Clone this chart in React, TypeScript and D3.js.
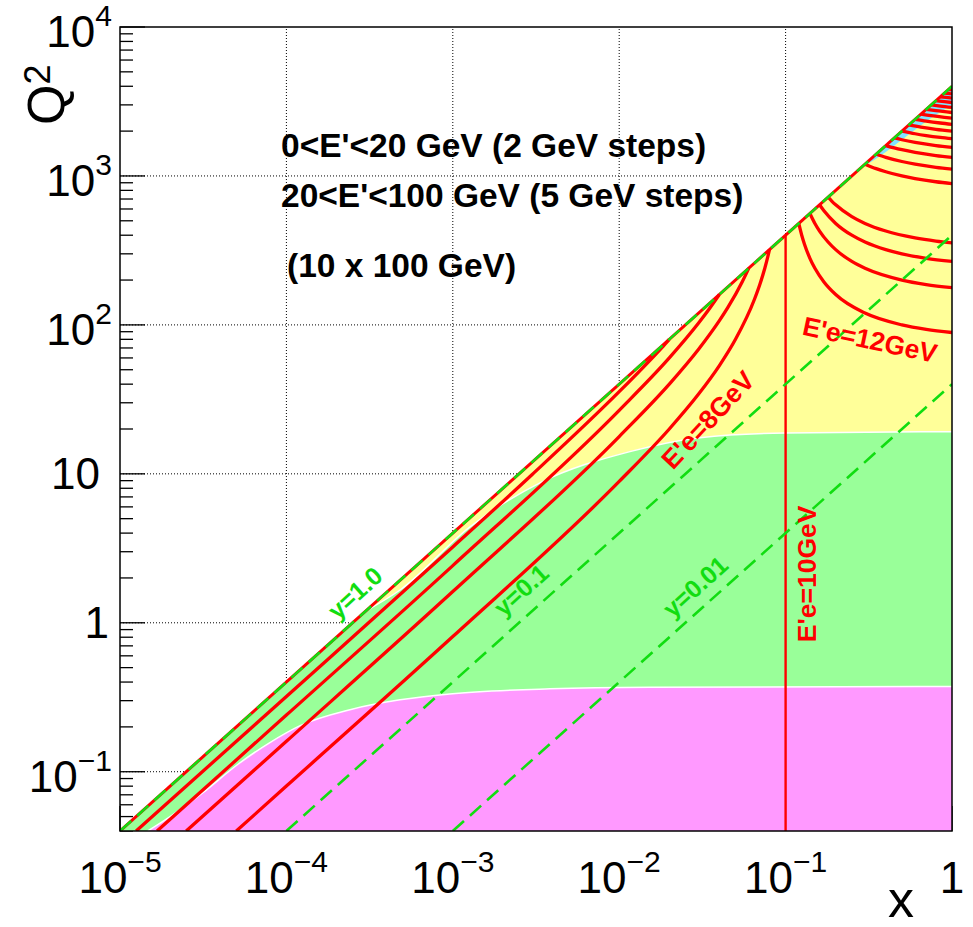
import React, { useRef, useEffect } from 'react'
import * as d3 from 'd3'

// 10 GeV electron x 100 GeV proton, x - Q2 plane
const xDomain = [1e-5, 1]
const yDomain = [0.04, 1e4]

const xTickValues = [1e-5, 1e-4, 1e-3, 1e-2, 1e-1, 1]
const xTickLabels = [['10', '−5'], ['10', '−4'], ['10', '−3'], ['10', '−2'], ['10', '−1'], ['1', '']]
const yTickValues = [1e4, 1e3, 1e2, 10, 1, 0.1]
const yTickLabels = [['10', '4'], ['10', '3'], ['10', '2'], ['10', ''], ['1', ''], ['10', '−1']]

// dashed green lines of constant y (end points)
const yLineNames = ['y=1.0', 'y=0.1', 'y=0.01']
const yLinePoints = [
    [[1e-5, 0.04], [1, 4000]],
    [[1e-4, 0.04], [1, 400]],
    [[1e-3, 0.04], [1, 40]],
]

// E'e contours below 10 GeV (x < 0.1)
const eLow = [2, 4, 6, 8]
const eLowPoints = [
    [[1.25e-5, 0.04], [1e-4, 0.32], [1e-3, 3.23], [3e-3, 9.9], [1e-2, 35.6], [0.015, 56.5], [0.018, 70.2], [0.02, 80]],
    [[1.67e-5, 0.04], [1e-4, 0.24], [1e-3, 2.42], [1e-2, 26.7], [0.02, 60], [0.03, 102.9], [0.035, 129.2], [0.038, 147.1], [0.04, 160]],
    [[2.5e-5, 0.04], [1e-4, 0.16], [1e-3, 1.62], [1e-2, 17.8], [0.02, 40], [0.03, 68.6], [0.04, 106.7], [0.045, 130.9], [0.055, 195.6], [0.058, 221], [0.06, 240]],
    [[5e-5, 0.04], [1e-4, 0.0801], [1e-3, 0.808], [1e-2, 8.89], [0.02, 20], [0.03, 34.3], [0.04, 53.3], [0.05, 80], [0.065, 148.6], [0.07, 186.7], [0.075, 240], [0.078, 283.6], [0.08, 320]],
]

// E'e = 10 GeV, vertical at x = 0.1
const eTen = [[0.1, 0.04], [0.1, 400]]

// E'e contours above 10 GeV (x > 0.1)
const eHigh = [12, 14, 16, 18, 30, 35, 40, 45, 50, 55, 60, 65, 70, 75, 80, 85, 90, 95]
const eHighPoints = [
    [[0.12, 480], [0.125, 400], [0.13, 346.7], [0.14, 280], [0.15, 240], [0.17, 194.3], [0.2, 160], [0.3, 120], [0.5, 100], [0.7, 93.3], [1, 88.9]],
    [[0.14, 560], [0.15, 480], [0.16, 426.7], [0.18, 360], [0.2, 320], [0.25, 266.7], [0.3, 240], [0.5, 200], [0.7, 186.7], [1, 177.8]],
    [[0.16, 640], [0.17, 582.9], [0.2, 480], [0.25, 400], [0.3, 360], [0.4, 320], [0.5, 300], [0.7, 280], [1, 266.7]],
    [[0.18, 720], [0.19, 675.6], [0.2, 640], [0.25, 533.3], [0.3, 480], [0.4, 426.7], [0.6, 384], [0.8, 365.7], [1, 355.6]],
    [[0.3, 1200], [0.35, 1120], [0.4, 1066.7], [0.5, 1000], [0.6, 960], [0.8, 914.3], [1, 888.9]],
    [[0.35, 1400], [0.4, 1333.3], [0.5, 1250], [0.6, 1200], [0.8, 1142.9], [1, 1111.1]],
    [[0.4, 1600], [0.45, 1542.9], [0.5, 1500], [0.6, 1440], [0.8, 1371.4], [1, 1333.3]],
    [[0.45, 1800], [0.5, 1750], [0.6, 1680], [0.8, 1600], [1, 1555.6]],
    [[0.5, 2000], [0.6, 1920], [0.7, 1866.7], [0.85, 1813.3], [1, 1777.8]],
    [[0.55, 2200], [0.65, 2127.3], [0.8, 2057.1], [1, 2000]],
    [[0.6, 2400], [0.7, 2333.3], [0.85, 2266.7], [1, 2222.2]],
    [[0.65, 2600], [0.75, 2538.5], [0.9, 2475], [1, 2444.4]],
    [[0.7, 2800], [0.8, 2742.9], [1, 2666.7]],
    [[0.75, 3000], [0.85, 2946.7], [1, 2888.9]],
    [[0.8, 3200], [0.9, 3150], [1, 3111.1]],
    [[0.85, 3400], [0.92, 3365.9], [1, 3333.3]],
    [[0.9, 3600], [1, 3555.6]],
    [[0.95, 3800], [1, 3777.8]],
]

// region borders
const yellowBorder = [[3.0e-4, 1.2], [4.82e-4, 1.66], [1.27e-3, 4.41], [3.34e-3, 8.7], [1.16e-2, 14.1], [3.06e-2, 17.5], [0.1, 18.8], [1, 19.2]]
const magentaBorder = [[1.47e-5, 0.04], [2.0e-5, 0.0499], [3.15e-5, 0.0723], [5.05e-5, 0.111], [7.96e-5, 0.157], [1.21e-4, 0.204], [2.41e-4, 0.261], [4.82e-4, 0.304], [9.6e-4, 0.333], [3.84e-3, 0.36], [1.53e-2, 0.369], [1, 0.373]]
const cyanBorder = [[0.28, 1120], [0.4, 1450], [0.55, 1900], [0.75, 2450], [1, 3000]]

const curveLabelTexts = ["E'e=8GeV", "E'e=12GeV", "E'e=10GeV"]
const infoTexts = ["0<E'<20 GeV (2 GeV steps)", "20<E'<100 GeV (5 GeV steps)", '(10 x 100 GeV)']

const width = 973
const height = 927
const margin = { top: 27, right: 21, bottom: 96, left: 120 }

const App = () => {
    const svgRef = useRef(null)

    useEffect(() => {
        document.body.style.margin = '0'
        const svg = d3.select(svgRef.current)
        svg.selectAll('*').remove()

        const font = 'Liberation Sans, Arial, Helvetica, sans-serif'
        const x0 = margin.left
        const x1 = width - margin.right
        const y0 = height - margin.bottom
        const y1 = margin.top

        const xScale = d3.scaleLog().domain(xDomain).range([x0, x1])
        const yScale = d3.scaleLog().domain(yDomain).range([y0, y1])

        const line = d3.line().x((d) => xScale(d[0])).y((d) => yScale(d[1]))
        const smooth = d3.line().x((d) => xScale(d[0])).y((d) => yScale(d[1])).curve(d3.curveMonotoneX)
        const pt = (d) => `${xScale(d[0])},${yScale(d[1])}`

        svg.append('rect').attr('width', width).attr('height', height).attr('fill', '#fff')

        svg.append('defs').append('clipPath').attr('id', 'plotclip')
            .append('rect').attr('x', x0).attr('y', y1).attr('width', x1 - x0).attr('height', y0 - y1)

        //grid
        const grid = svg.append('g').attr('stroke', '#000').attr('stroke-width', 1).attr('stroke-dasharray', '1,2')
        xTickValues.slice(1, -1).forEach((v) => {
            grid.append('line').attr('x1', xScale(v)).attr('x2', xScale(v)).attr('y1', y0).attr('y2', y1)
        })
        yTickValues.slice(1).forEach((v) => {
            grid.append('line').attr('x1', x0).attr('x2', x1).attr('y1', yScale(v)).attr('y2', yScale(v))
        })

        //ticks
        const isDecade = (v) => Math.abs(Math.log10(v) - Math.round(Math.log10(v))) < 1e-6
        const ticks = svg.append('g').attr('stroke', '#000').attr('stroke-width', 1.3)
        yScale.ticks().forEach((v) => {
            const len = isDecade(v) ? 25 : 13
            ticks.append('line').attr('x1', x0).attr('x2', x0 + len).attr('y1', yScale(v)).attr('y2', yScale(v))
        })
        xScale.ticks().forEach((v) => {
            const len = isDecade(v) ? 25 : 13
            ticks.append('line').attr('x1', xScale(v)).attr('x2', xScale(v)).attr('y1', y0).attr('y2', y0 - len)
        })

        //regions
        const plot = svg.append('g').attr('clip-path', 'url(#plotclip)')
        const [lo, hi] = yLinePoints[0]
        plot.append('path')
            .attr('d', `M${pt(lo)}L${pt(hi)}L${pt([hi[0], lo[1]])}Z`)
            .attr('fill', '#99ff99')
        plot.append('path')
            .attr('d', `${smooth(yellowBorder)}L${pt(hi)}L${pt(yellowBorder[0])}Z`)
            .attr('fill', '#ffff99')
        plot.append('path')
            .attr('d', `${smooth(magentaBorder)}L${pt([hi[0], lo[1]])}L${pt(magentaBorder[0])}Z`)
            .attr('fill', '#ff99ff')
        plot.append('path')
            .attr('d', `${smooth(cyanBorder)}L${pt(hi)}Z`)
            .attr('fill', '#80e4ff')
        ;[yellowBorder, magentaBorder].forEach((b) => {
            plot.append('path').attr('d', smooth(b)).attr('fill', 'none').attr('stroke', '#fff').attr('stroke-width', 1.5)
        })

        //E'e contours
        plot.append('path').attr('d', line(yLinePoints[0]))
            .attr('fill', 'none').attr('stroke', '#ff0000').attr('stroke-width', 3)
        ;[...eLowPoints, ...eHighPoints].forEach((pts) => {
            plot.append('path').attr('d', smooth(pts))
                .attr('fill', 'none').attr('stroke', '#ff0000').attr('stroke-width', 3.3)
                .attr('stroke-linejoin', 'round')
        })
        plot.append('path').attr('d', line(eTen))
            .attr('fill', 'none').attr('stroke', '#ff0000').attr('stroke-width', 2.4)

        //constant y lines
        yLinePoints.forEach((pts) => {
            plot.append('path').attr('d', line(pts))
                .attr('fill', 'none').attr('stroke', '#11dd11').attr('stroke-width', 2.6)
                .attr('stroke-dasharray', '15,8')
        })

        //labels on lines
        const yLabelAt = [[2.58e-4, 1.59], [2.57e-3, 1.66], [0.0286, 1.75]]
        yLineNames.forEach((t, i) => {
            svg.append('text')
                .attr('transform', `translate(${xScale(yLabelAt[i][0])},${yScale(yLabelAt[i][1])}) rotate(-42)`)
                .attr('text-anchor', 'middle').attr('dominant-baseline', 'central')
                .attr('font-family', font).attr('font-weight', 'bold').attr('font-size', 25)
                .attr('fill', '#11dd11').text(t)
        })
        const eLabelAt = [[0.0342, 23.0, -47], [0.321, 79.3, 12], [0.134, 2.13, -90]]
        curveLabelTexts.forEach((t, i) => {
            const [lx, ly, ang] = eLabelAt[i]
            svg.append('text')
                .attr('transform', `translate(${xScale(lx)},${yScale(ly)}) rotate(${ang})`)
                .attr('text-anchor', 'middle').attr('dominant-baseline', 'central')
                .attr('font-family', font).attr('font-weight', 'bold').attr('font-size', 26.5)
                .attr('fill', '#ff0000').text(t)
        })

        //info text
        const infoPos = [[x0 + 161, 157], [x0 + 161, 207], [x0 + 167, 277]]
        infoTexts.forEach((t, i) => {
            svg.append('text')
                .attr('x', infoPos[i][0]).attr('y', infoPos[i][1])
                .attr('font-family', font).attr('font-weight', 'bold').attr('font-size', 33.5)
                .attr('fill', '#000').text(t)
        })

        //frame
        svg.append('rect').attr('x', x0).attr('y', y1).attr('width', x1 - x0).attr('height', y0 - y1)
            .attr('fill', 'none').attr('stroke', '#000').attr('stroke-width', 1.5)

        //tick labels
        const label = (sel, base, exp) => {
            sel.append('tspan').text(base)
            if (exp) sel.append('tspan').attr('dy', -21).attr('font-size', 30).text(exp)
        }
        xTickValues.forEach((v, i) => {
            const t = svg.append('text')
                .attr('x', xScale(v)).attr('y', y0 + 62)
                .attr('text-anchor', 'middle')
                .attr('font-family', font).attr('font-size', 44).attr('fill', '#000')
            label(t, xTickLabels[i][0], xTickLabels[i][1])
        })
        yTickValues.forEach((v, i) => {
            const [base, exp] = yTickLabels[i]
            const right = exp ? 112 : base === '1' ? 109 : 100
            const t = svg.append('text')
                .attr('x', right)
                .attr('y', yScale(v) + (exp ? 20 : 15))
                .attr('text-anchor', 'end')
                .attr('font-family', font).attr('font-size', 44).attr('fill', '#000')
            label(t, base, exp)
        })

        //axis titles
        svg.append('text')
            .attr('x', x1 - 38).attr('y', height - 10)
            .attr('text-anchor', 'end')
            .attr('font-family', font).attr('font-size', 52).attr('fill', '#000')
            .text('x')
        const q = svg.append('text')
            .attr('transform', `translate(64,125) rotate(-90)`)
            .attr('font-family', font).attr('font-size', 52).attr('fill', '#000')
        q.append('tspan').text('Q')
        q.append('tspan').attr('dy', -14).attr('font-size', 36).text('2')
    }, [])

    return <svg ref={svgRef} width={width} height={height} style={{ display: 'block' }} />
}

export default App
